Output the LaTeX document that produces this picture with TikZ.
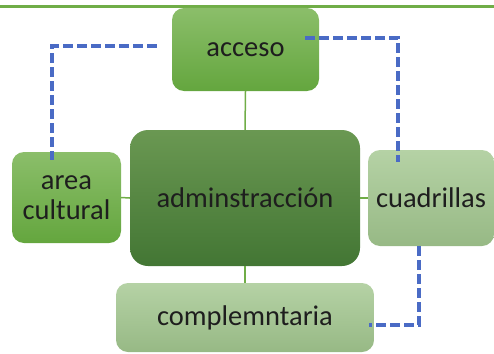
\documentclass[tikz,border=0pt]{standalone}
\usepackage{fontspec}
\setmainfont{Carlito}
\usetikzlibrary{positioning}

\definecolor{linkgreen}{HTML}{70AD47}
\definecolor{dashblue}{HTML}{4A6BC5}
\definecolor{textdark}{HTML}{1E1E1E}
\definecolor{midtop}{HTML}{8BBE6A}
\definecolor{midbot}{HTML}{64A63E}
\definecolor{darktop}{HTML}{6A9852}
\definecolor{darkbot}{HTML}{437634}
\definecolor{paletop}{HTML}{B5D2A5}
\definecolor{palebot}{HTML}{97B985}

\begin{document}
\begin{tikzpicture}[x=1pt,y=-1pt,
    box/.style={rounded corners=12pt,text=textdark,align=center,inner sep=0pt,
      font=\fontsize{28.5}{30}\selectfont},
    midgreen/.style={box,top color=midtop,bottom color=midbot},
    darkgreen/.style={box,rounded corners=18pt,top color=darktop,bottom color=darkbot},
    palegreen/.style={box,top color=paletop,bottom color=palebot},
    link/.style={draw=linkgreen,line width=1.5pt},
    dashlink/.style={draw=dashblue,line width=3.5pt,dash pattern=on 10pt off 4pt}]
    \useasboundingbox (0,0) rectangle (494,353);
    \draw[line width=2.5pt,linkgreen] (0,6.5) -- (494,6.5);

    \node[midgreen,minimum width=147pt,minimum height=83pt] (acceso) at (245.5,49.5) {acceso};
    \node[darkgreen,minimum width=230pt,minimum height=136pt] (admin) at (245,198) {adminstracción};
    \node[midgreen,minimum width=109pt,minimum height=91pt] (area) at (66.5,197.5) {area\\cultural};
    \node[palegreen,minimum width=126pt,minimum height=96pt] (cuadrillas) at (431,198) {cuadrillas};
    \node[palegreen,minimum width=258pt,minimum height=69pt] (compl) at (245,317.5) {complemntaria};

    \draw[link] (acceso.south) -- (admin.north);
    \draw[link] (admin.west) -- (area.east);
    \draw[link] (admin.east) -- (cuadrillas.west);
    \draw[link] (admin.south) -- (compl.north);

    % dashed links
    \draw[dashlink] ([xshift=-15pt,yshift=3.5pt]acceso.west) -| ([xshift=-14.5pt,yshift=-8pt]area.north);
    \draw[dashlink] ([xshift=-14pt,yshift=11.5pt]acceso.east) -| ([xshift=-33pt,yshift=-12pt]cuadrillas.north);
    \draw[dashlink] ([xshift=-12pt]cuadrillas.south) |- ([xshift=-5pt,yshift=-7.5pt]compl.east);
\end{tikzpicture}
\end{document}
